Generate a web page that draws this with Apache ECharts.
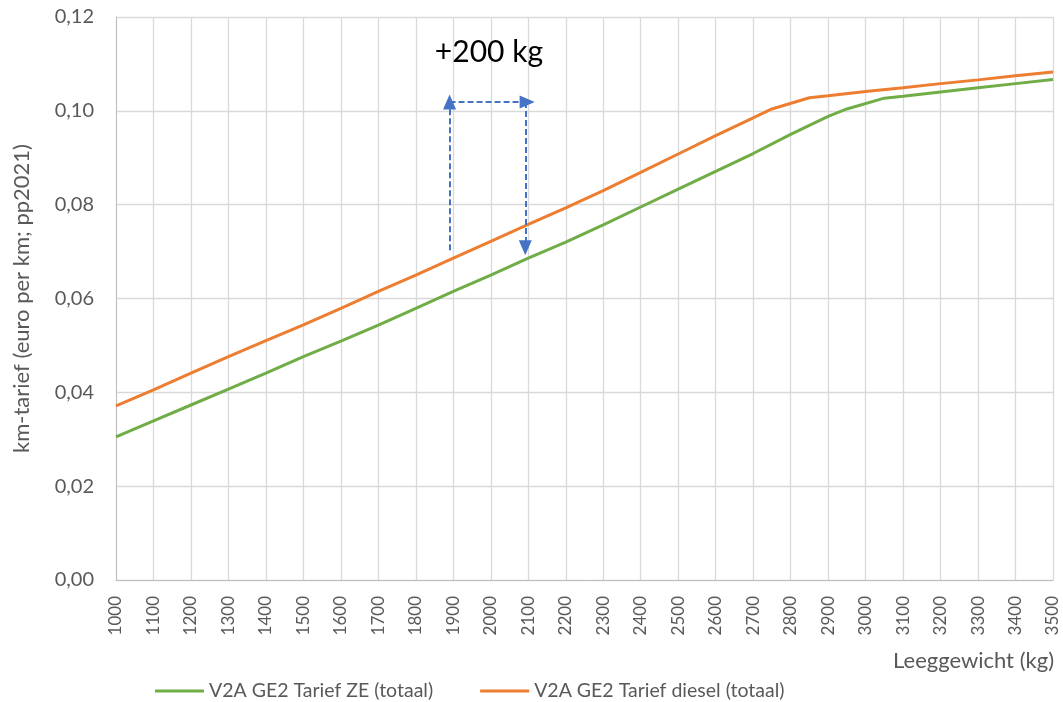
<!DOCTYPE html>
<html>
<head>
<meta charset="utf-8">
<script src="https://cdn.jsdelivr.net/npm/echarts@6/dist/echarts.min.js"></script>
<style>html,body{margin:0;padding:0;background:#fff}#c{width:1063px;height:702px}</style>
</head>
<body>
<div id="c"></div>
<script>
const seriesNames = ['V2A GE2 Tarief ZE (totaal)', 'V2A GE2 Tarief diesel (totaal)'];
const zeWeights = [1000,1100,1200,1300,1400,1500,1600,1700,1800,1900,2000,2100,2200,2300,2400,2500,2600,2700,2800,2900,2950,3050,3100,3200,3300,3400,3500];
const zeValues  = [0.0305,0.0339,0.0373,0.0407,0.0441,0.0476,0.0509,0.0543,0.0579,0.0615,0.0650,0.0686,0.0720,0.0757,0.0795,0.0833,0.0871,0.0909,0.0950,0.0988,0.1004,0.1027,0.1031,0.1040,0.1049,0.1058,0.1067];
const dieselWeights = [1000,1100,1200,1300,1400,1500,1600,1700,1800,1900,2000,2100,2200,2300,2400,2500,2600,2700,2750,2850,2900,3000,3100,3200,3300,3400,3500];
const dieselValues  = [0.0371,0.0405,0.0441,0.0476,0.0510,0.0544,0.0579,0.0615,0.0650,0.0686,0.0722,0.0758,0.0793,0.0830,0.0869,0.0908,0.0947,0.0985,0.1004,0.1028,0.1032,0.1041,0.1049,0.1058,0.1066,0.1075,0.1083];
const xTicks = {min: 1000, max: 3500, step: 100};
const yTicks = {min: 0, max: 0.12, step: 0.02};
const annotationText = '+200 kg';
const annotationPos = [1995, 0.1125];
const arrowUp = [[1890, 0.0703], [1890, 0.1019]];
const arrowRight = [[1890, 0.1019], [2097, 0.1019]];
const arrowDown = [[2092, 0.1019], [2092, 0.0708]];
const xAxisName = 'Leeggewicht (kg)';
const yAxisName = 'km-tarief (euro per km; pp2021)';

const FONT = 'Lato';
const TXT = '#595959';
const chart = echarts.init(document.getElementById('c'));
const pair = (xs, ys) => xs.map((x, i) => [x, ys[i]]);
const arrowStyle = {color: '#4472C4', width: 2, type: [6, 3]};

chart.setOption({
  animation: false,
  textStyle: {fontFamily: FONT},
  grid: {left: 116, right: 10, top: 17, bottom: 122, containLabel: false},
  legend: {
    left: 150, top: 676,
    icon: 'rect', itemWidth: 49, itemHeight: 3, itemGap: 47,
    textStyle: {fontFamily: FONT, fontSize: 19.5, color: TXT},
    data: seriesNames
  },
  xAxis: {
    type: 'value', min: xTicks.min, max: xTicks.max, interval: xTicks.step,
    axisLine: {show: true, lineStyle: {color: '#bfbfbf', width: 1}},
    axisTick: {show: false},
    splitLine: {show: true, lineStyle: {color: '#d9d9d9', width: 1.3}},
    axisLabel: {rotate: 90, margin: 16, fontFamily: FONT, fontSize: 17, color: TXT, formatter: v => String(v)}
  },
  yAxis: {
    type: 'value', min: yTicks.min, max: yTicks.max, interval: yTicks.step,
    name: yAxisName, nameLocation: 'middle', nameGap: 83, nameRotate: 90,
    nameTextStyle: {fontFamily: FONT, fontSize: 22, color: TXT},
    axisLine: {show: true, lineStyle: {color: '#bfbfbf', width: 1}},
    axisTick: {show: false},
    splitLine: {show: true, lineStyle: {color: '#d9d9d9', width: 1.3}},
    axisLabel: {margin: 22, fontFamily: FONT, fontSize: 20, color: TXT, formatter: v => v.toFixed(2).replace('.', ',')}
  },
  graphic: [{
    type: 'text', right: 9, top: 650,
    style: {text: xAxisName, fontFamily: FONT, fontSize: 22, fill: TXT}
  }],
  series: [
    {
      name: seriesNames[0], type: 'line', data: pair(zeWeights, zeValues),
      showSymbol: false, symbol: 'none', lineStyle: {color: '#70AD47', width: 3}, itemStyle: {color: '#70AD47'}
    },
    {
      name: seriesNames[1], type: 'line', data: pair(dieselWeights, dieselValues),
      showSymbol: false, symbol: 'none', lineStyle: {color: '#ED7D31', width: 3}, itemStyle: {color: '#ED7D31'},
      markLine: {
        silent: true, animation: false, symbolSize: [13, 15],
        label: {show: false},
        lineStyle: arrowStyle,
        emphasis: {disabled: true},
        data: [
          [{coord: arrowUp[0], symbol: 'none'}, {coord: arrowUp[1], symbol: 'triangle'}],
          [{coord: arrowRight[0], symbol: 'none'}, {coord: arrowRight[1], symbol: 'triangle'}],
          [{coord: arrowDown[0], symbol: 'none'}, {coord: arrowDown[1], symbol: 'triangle'}]
        ]
      },
      markPoint: {
        silent: true, symbol: 'circle', symbolSize: 0,
        label: {show: true, position: 'inside', formatter: annotationText, fontFamily: FONT, fontSize: 30, color: '#000'},
        data: [{coord: annotationPos}]
      }
    }
  ]
});
</script>
</body>
</html>
